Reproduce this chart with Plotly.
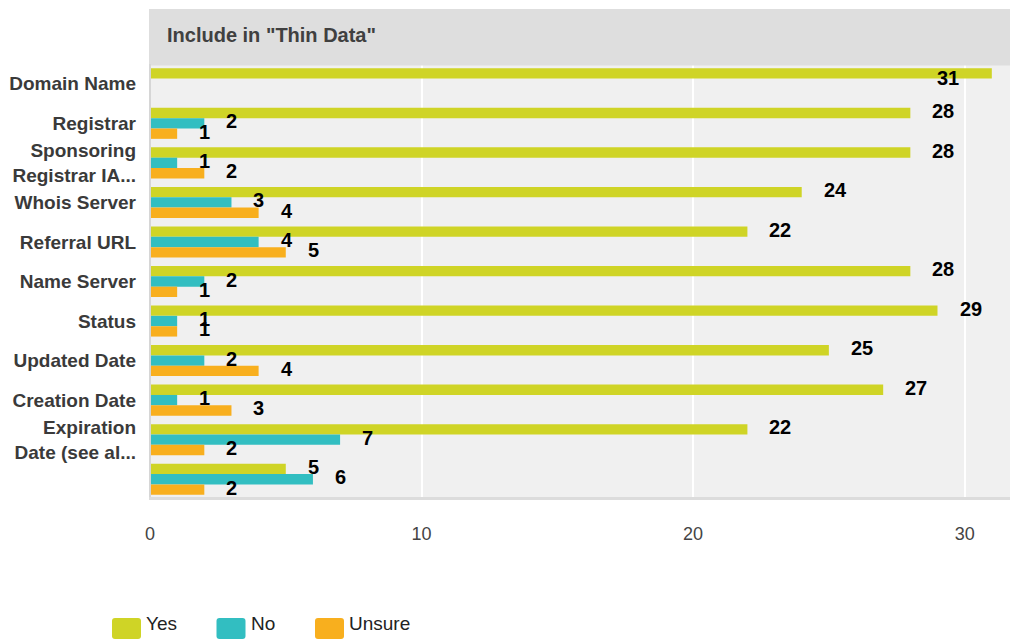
import plotly.graph_objects as go

# Survey responses: which fields to include in "Thin Data"
categories = [
    "Domain Name",
    "Registrar",
    "Sponsoring<br>Registrar IA...",
    "Whois Server",
    "Referral URL",
    "Name Server",
    "Status",
    "Updated Date",
    "Creation Date",
    "Expiration<br>Date (see al...",
    "",
]
yes_votes = [31, 28, 28, 24, 22, 28, 29, 25, 27, 22, 5]
no_votes = [0, 2, 1, 3, 4, 2, 1, 2, 1, 7, 6]
unsure_votes = [0, 1, 2, 4, 5, 1, 1, 4, 3, 2, 2]

series_names = ["Yes", "No", "Unsure"]
series_values = [yes_votes, no_votes, unsure_votes]
series_colors = ["#cfd426", "#32bec1", "#f8af1e"]

x_ticks = [0, 10, 20, 30]
title_text = 'Include in "Thin Data"'

W, H = 1010, 639
L, R, T, B = 150, 0, 64, 140
plot_w = W - L - R
plot_h = H - T - B
x_max = 31.67
px_per_unit = plot_w / x_max
bargap = 0.215
bar_w = (1 - bargap) / len(series_names)

positions = list(range(len(categories)))

fig = go.Figure()
for name, vals, color in zip(series_names, series_values, series_colors):
    fig.add_trace(go.Bar(
        name=name, y=positions, x=vals, orientation="h",
        marker=dict(color=color, line=dict(width=0)),
        showlegend=False, hoverinfo="x+name",
    ))

# value labels beside each bar
annotations = []
for k, vals in enumerate(series_values):
    offset = (k - (len(series_names) - 1) / 2) * bar_w
    for i, v in enumerate(vals):
        if v == 0:
            continue
        est_w = 11 * len(str(v))
        fits = v * px_per_unit + 20 + est_w <= plot_w
        annotations.append(dict(
            x=v, y=i + offset, xref="x", yref="y",
            text=f"<b>{v}</b>", showarrow=False,
            xanchor="left" if fits else "right",
            xshift=20 if fits else -31,
            yshift=2 if fits else -5,
            font=dict(family="Liberation Sans, Arial", size=20, color="#000000"),
        ))


def px_x(p):
    return (p - L) / plot_w


def px_y(p):
    return (T + plot_h - p) / plot_h


# title band and frame lines
shapes = [
    dict(type="rect", xref="paper", yref="paper",
         x0=px_x(149), x1=1, y0=px_y(65.5), y1=px_y(9),
         fillcolor="#dedede", line=dict(width=0), layer="above"),
    dict(type="line", xref="paper", yref="paper",
         x0=px_x(150), x1=px_x(150), y0=0, y1=1,
         line=dict(color="#d6d6d6", width=2), layer="above"),
    dict(type="line", xref="paper", yref="paper",
         x0=px_x(149), x1=1, y0=px_y(498.5), y1=px_y(498.5),
         line=dict(color="#dcdcdc", width=3), layer="above"),
]
annotations.append(dict(
    x=px_x(165), y=px_y(35), xref="paper", yref="paper",
    text=f"<b>{title_text}</b>", showarrow=False,
    xanchor="left", yanchor="middle",
    font=dict(family="Liberation Sans, Arial", size=20, color="#404040"),
))

# legend drawn as rounded swatches with labels
legend_x = [112, 216.5, 315]
sw_w, sw_h, rad = 29, 21, 3
sw_cy = 628.5
for name, color, lx in zip(series_names, series_colors, legend_x):
    hw, hh = sw_w / 2, sw_h / 2
    path = (f"M{-hw + rad},{-hh} L{hw - rad},{-hh} Q{hw},{-hh} {hw},{-hh + rad} "
            f"L{hw},{hh - rad} Q{hw},{hh} {hw - rad},{hh} L{-hw + rad},{hh} "
            f"Q{-hw},{hh} {-hw},{hh - rad} L{-hw},{-hh + rad} Q{-hw},{-hh} {-hw + rad},{-hh} Z")
    shapes.append(dict(
        type="path", xref="paper", yref="paper",
        xsizemode="pixel", ysizemode="pixel",
        xanchor=px_x(lx + hw), yanchor=px_y(sw_cy),
        path=path, fillcolor=color, line=dict(width=0),
    ))
    annotations.append(dict(
        x=px_x(lx + sw_w + 3), y=px_y(623.5), xref="paper", yref="paper",
        text=name, showarrow=False, xanchor="left", yanchor="middle",
        font=dict(family="Liberation Sans, Arial", size=19, color="#222222"),
    ))

fig.update_layout(
    width=W, height=H,
    margin=dict(l=L, r=R, t=T, b=B, pad=0),
    paper_bgcolor="#ffffff", plot_bgcolor="#f0f0f0",
    barmode="group", bargap=bargap, bargroupgap=0,
    shapes=shapes, annotations=annotations,
    showlegend=False,
    xaxis=dict(
        range=[0, x_max], tickvals=x_ticks, ticktext=[str(t) for t in x_ticks],
        showgrid=True, gridcolor="#ffffff", gridwidth=2,
        zeroline=False, showline=False, ticks="",
        ticklabelstandoff=22,
        tickfont=dict(family="Liberation Sans, Arial", size=18, color="#444444"),
        fixedrange=True,
    ),
    yaxis=dict(
        range=[len(categories) - 0.5, -0.5],
        tickvals=positions,
        ticktext=[f"<b>{c}</b>" if c else "" for c in categories],
        showgrid=False, zeroline=False, showline=False, ticks="",
        ticklabelstandoff=13,
        tickfont=dict(family="Liberation Sans, Arial", size=19, color="#3a3a3a"),
        fixedrange=True,
    ),
    font=dict(family="Liberation Sans, Arial"),
)

fig.write_html("out.html")
